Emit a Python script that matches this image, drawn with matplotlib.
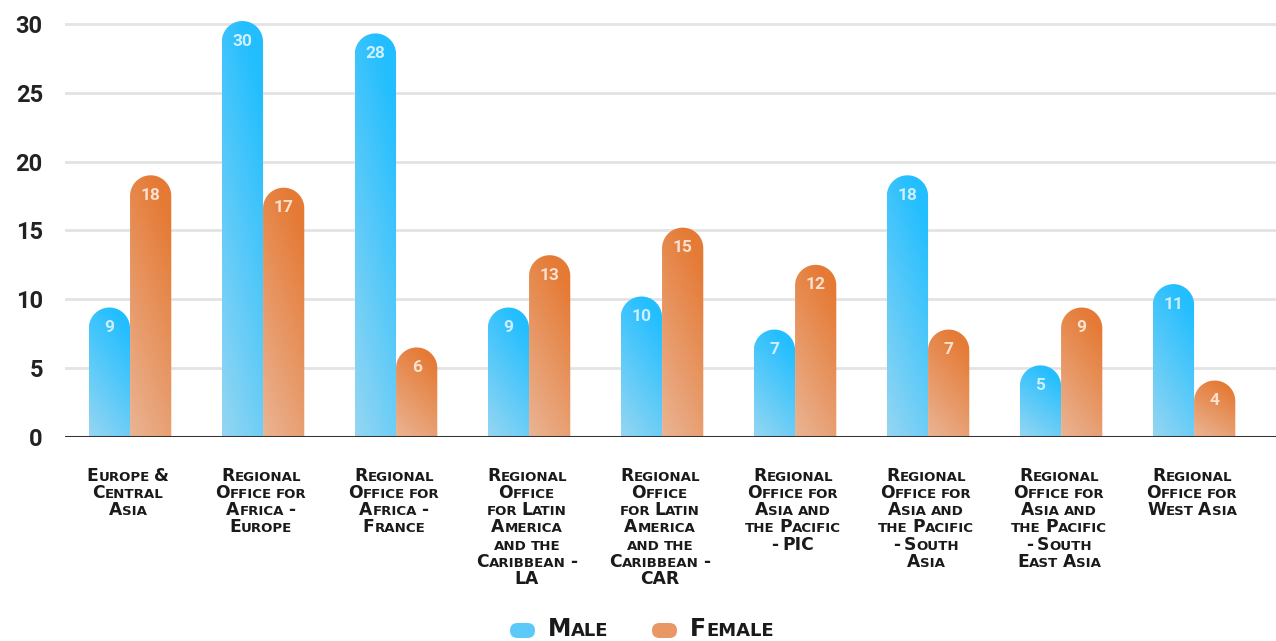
import itertools
import numpy as np
import matplotlib
matplotlib.use("Agg")
import matplotlib.pyplot as plt
from matplotlib.patches import Polygon, FancyBboxPatch
from matplotlib.offsetbox import TextArea, HPacker, VPacker, AnnotationBbox
from matplotlib.transforms import IdentityTransform

# data
categories = [
    "Europe &\nCentral\nAsia",
    "Regional\nOffice for\nAfrica -\nEurope",
    "Regional\nOffice for\nAfrica -\nFrance",
    "Regional\nOffice\nfor Latin\nAmerica\nand the\nCaribbean -\nLA",
    "Regional\nOffice\nfor Latin\nAmerica\nand the\nCaribbean -\nCAR",
    "Regional\nOffice for\nAsia and\nthe Pacific\n- PIC",
    "Regional\nOffice for\nAsia and\nthe Pacific\n- South\nAsia",
    "Regional\nOffice for\nAsia and\nthe Pacific\n- South\nEast Asia",
    "Regional\nOffice for\nWest Asia",
]
# labels shown on the bars
male = [9, 30, 28, 9, 10, 7, 18, 5, 11]
female = [18, 17, 6, 13, 15, 12, 7, 9, 4]
# bar heights as drawn
male_h = [9.4, 30.2, 29.3, 9.4, 10.2, 7.8, 19.0, 5.2, 11.1]
female_h = [19.0, 18.1, 6.5, 13.2, 15.2, 12.5, 7.8, 9.4, 4.1]
yticks = [0, 5, 10, 15, 20, 25, 30]

BLUE_TOP, BLUE_BOT = np.array([0x22, 0xBE, 0xFF]) / 255, np.array([0x95, 0xD6, 0xF2]) / 255
ORNG_TOP, ORNG_BOT = np.array([0xE5, 0x7A, 0x35]) / 255, np.array([0xEA, 0xB4, 0x94]) / 255
TXT = "#222222"

fig = plt.figure(figsize=(12.76, 6.41), dpi=100)
W, H = 1276, 641
ax = fig.add_axes([65 / W, 1 - 437 / H, 1 - 65 / W, (437 - 10) / H])
ax.set_xlim(-0.489, 8.616)
ax.set_ylim(0, 31)

# px per data unit, to keep the round caps circular
p0 = ax.transData.transform((0, 0))
p1 = ax.transData.transform((1, 1))
px_x, px_y = p1[0] - p0[0], p1[1] - p0[1]

bw = 0.31


def rounded_bar(xc, top, val, ctop, cbot, lblcolor):
    rx = bw / 2
    ry = rx * px_x / px_y
    th = np.linspace(0, np.pi, 40)
    arc = np.column_stack([xc + rx * np.cos(th), top - ry + ry * np.sin(th)])
    pts = np.vstack([[xc + rx, 0], arc, [xc - rx, 0]])
    poly = Polygon(pts, closed=True, facecolor="none", edgecolor="none")
    ax.add_patch(poly)
    # diagonal gradient: dark top-right, light bottom-left
    v = np.linspace(0, 1, 80)[:, None]
    u = np.linspace(0, 1, 20)[None, :]
    s = np.clip(0.8 * v + 0.35 * u, 0, 1)[..., None]
    img = cbot * (1 - s) + ctop * s
    im = ax.imshow(img, extent=[xc - rx, xc + rx, 0, top], origin="lower",
                   aspect="auto", zorder=2, interpolation="bilinear")
    im.set_clip_path(poly)
    ax.annotate(str(val), xy=(xc, top), xytext=(0, -20 * 0.72),
                textcoords="offset points", ha="center", va="center",
                fontsize=12.5, fontweight="bold", family="Roboto",
                color=lblcolor, zorder=3)


for i in range(len(categories)):
    rounded_bar(i - bw / 2, male_h[i], male[i], BLUE_TOP, BLUE_BOT, "#CDEFFF")
    rounded_bar(i + bw / 2, female_h[i], female[i], ORNG_TOP, ORNG_BOT, "#FBE1CF")

ax.set_xlim(-0.489, 8.616)
ax.set_ylim(0, 31)
ax.set_yticks(yticks)
ax.set_yticklabels([str(t) for t in yticks], fontsize=17, fontweight="bold",
                   family="Roboto", color=TXT)
ax.tick_params(axis="y", length=0, pad=16)
ax.set_xticks([])
ax.grid(axis="y", color="#E3E3E3", linewidth=2)
ax.set_axisbelow(True)
for sp in ax.spines.values():
    sp.set_visible(False)
ax.axhline(0, color="#333333", linewidth=2.2, zorder=4)


def smallcaps(text, big, small, color="#1A1A1A", sep_line=-0.6):
    lines = []
    for line in text.split("\n"):
        words = []
        for word in line.split(" "):
            runs = []
            for low, grp in itertools.groupby(word, key=str.islower):
                s = "".join(grp)
                runs.append(TextArea(s.upper(), textprops=dict(
                    fontsize=small if low else big, fontweight="bold",
                    family="DejaVu Sans", color=color)))
            words.append(HPacker(children=runs, sep=0, pad=0, align="baseline"))
        words.append(TextArea("", textprops=dict(fontsize=big, fontweight="bold",
                                                 family="DejaVu Sans")))
        lines.append(HPacker(children=words, sep=big * 0.25, pad=0, align="baseline"))
    return VPacker(children=lines, sep=sep_line, pad=0, align="center")


for i, cat in enumerate(categories):
    box = smallcaps(cat, 12.3, 9.6)
    ab = AnnotationBbox(box, xy=(i, 0), xycoords=("data", "axes fraction"),
                        xybox=(0, -30 * 0.72), boxcoords="offset points",
                        box_alignment=(0.5, 1), frameon=False,
                        annotation_clip=False, pad=0)
    ax.add_artist(ab)

# legend
for x0, col, name in [(510, (BLUE_TOP + BLUE_BOT) / 2, "Male"),
                      (652, (ORNG_TOP + ORNG_BOT) / 2, "Female")]:
    pill = FancyBboxPatch((x0, 3), 25, 15,
                          boxstyle="round,pad=0,rounding_size=7.5",
                          transform=IdentityTransform(), facecolor=col,
                          edgecolor="none")
    fig.add_artist(pill)
    box = smallcaps(name, 17, 13)
    ab = AnnotationBbox(box, xy=(x0 + 38, 0), xycoords="figure pixels",
                        box_alignment=(0, 0), frameon=False,
                        annotation_clip=False, pad=0)
    fig.add_artist(ab)

fig.savefig("out.png", dpi=100)
